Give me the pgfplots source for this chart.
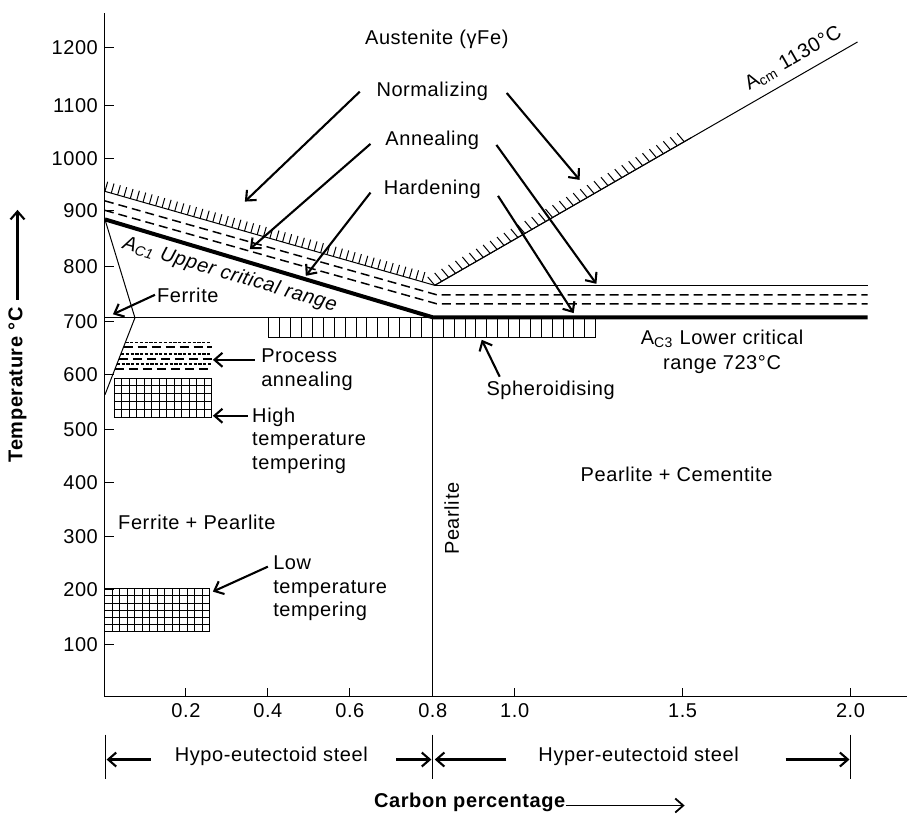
\documentclass[border=0pt]{standalone}
\usepackage{fontspec}
\setmainfont{Liberation Sans}[LetterSpace=3]
\usepackage{pgfplots}
\pgfplotsset{compat=1.18}
\usetikzlibrary{arrows.meta,decorations.pathreplacing}
\begin{document}
\begin{tikzpicture}[
  ann/.style={-{Straight Barb[length=4pt,width=7pt]}, line width=1.05pt},
  lbl/.style={font=\fontsize{10}{12}\selectfont, inner sep=0pt},
]
\begin{axis}[
  scale only axis, width=401pt, height=342pt,
  xmin=0, xmax=1.9561, ymin=0, ymax=1270.7,
  axis lines=left, axis line style={-, line width=0.5pt},
  clip=false,
  xtick={0.1976,0.3976,0.5976,0.8,1.0,1.4098,1.8195},
  xticklabels={0.2,0.4,0.6,0.8,1.0,1.5,2.0},
  ytick={96.6,198.8,296.7,397.5,496,598.2,696.6,798.8,902.8,999.4,1098.8,1206.6},
  yticklabels={100,200,300,400,500,600,700,800,900,1000,1100,1200},
  tick align=inside, major tick length=4.5pt,
  tick style={black,line width=0.5pt},
  ticklabel style={font=\fontsize{10}{12}\selectfont},
  /pgf/number format/assume math mode=true,
]
% page extent
\path (axis cs:-0.2561,-221.1) rectangle (axis cs:1.9561,1294.8);

% Normalizing line (hatched) and its horizontal continuation
\addplot[black, line width=0.5pt, postaction={decorate},
  decoration={border, segment length=3.3pt, amplitude=5pt, angle=90}]
  coordinates {(0,939.1) (0.8049,764.4)};
\addplot[black, line width=0.5pt] coordinates {(0.8049,764.4) (1.861,764.4)};
% Acm line
\addplot[black, line width=0.5pt] coordinates {(0.8049,764.4) (1.8366,1216.8)};
\addplot[black, line width=0.5pt, postaction={decorate},
  decoration={border, segment length=4pt, amplitude=5.5pt, angle=100}]
  coordinates {(0.8049,764.4) (1.4317,1039.3)};

% Annealing (dashed) lines
\addplot[black, line width=0.75pt, dash pattern=on 4.5pt off 2.5pt]
  coordinates {(0,921.4) (0.8098,746.8) (1.861,746.8)};
\addplot[black, line width=0.75pt, dash pattern=on 4.5pt off 2.5pt]
  coordinates {(0,903.8) (0.8098,730.1) (1.861,730.1)};

% Hardening / upper critical (thick)
\addplot[black, line width=2pt] coordinates {(0,887.0) (0.8,705.0) (1.861,705.0)};

% eutectoid thin line
\addplot[black, line width=0.5pt] coordinates {(0,704.1) (0.8,704.1)};
% ferrite boundary
\addplot[black, line width=0.5pt] coordinates {(0,887.0) (0.0732,704.1) (0,561.0)};
% pearlite vertical
\addplot[black, line width=0.5pt] coordinates {(0.8,704.1) (0.8,0)};

% Process annealing lines
\addplot[black, line width=0.8pt, dash pattern=on 1.6pt off 0.8pt] coordinates {(0.0498,658.2) (0.2602,658.2)};
\addplot[black, line width=0.8pt, dash pattern=on 4.5pt off 2.5pt] coordinates {(0.0454,649.7) (0.2602,649.7)};
\addplot[black, line width=0.8pt, dash pattern=on 1.6pt off 0.8pt] coordinates {(0.0390,637.2) (0.2602,637.2)};
\addplot[black, line width=0.8pt, dash pattern=on 4.5pt off 2.5pt] coordinates {(0.0341,627.9) (0.2602,627.9)};
\addplot[black, line width=0.8pt, dash pattern=on 1.6pt off 0.8pt] coordinates {(0.0290,618.1) (0.2602,618.1)};
\addplot[black, line width=0.8pt, dash pattern=on 4.5pt off 2.5pt] coordinates {(0.0244,608.8) (0.2602,608.8)};

% High temperature tempering grid
\pgfplotsinvokeforeach{0.022,0.0403,0.0586,0.077,0.0953,0.1136,0.1319,0.1503,0.1686,0.1869,0.2052,0.2236,0.2419,0.2602}{
  \draw[line width=0.45pt] (axis cs:#1,519.6) -- (axis cs:#1,592.0);}
\pgfplotsinvokeforeach{519.6,534.1,548.6,563.0,577.5,592.0}{
  \draw[line width=0.45pt] (axis cs:0.022,#1) -- (axis cs:0.2602,#1);}

% Low temperature tempering grid
\pgfplotsinvokeforeach{0,0.0183,0.0366,0.0549,0.0732,0.0915,0.1098,0.128,0.1463,0.1646,0.1829,0.2012,0.2195,0.2378,0.2561}{
  \draw[line width=0.45pt] (axis cs:#1,120.7) -- (axis cs:#1,200.6);}
\pgfplotsinvokeforeach{120.7,134.0,147.3,160.6,174.0,187.3,200.6}{
  \draw[line width=0.45pt] (axis cs:0,#1) -- (axis cs:0.2561,#1);}

% Spheroidising box
\pgfplotsinvokeforeach{0.4,0.4266,0.4532,0.4798,0.5063,0.5329,0.5595,0.5861,0.6127,0.6393,0.6659,0.6925,0.719,0.7456,0.7722,0.7988,0.8254,0.852,0.8786,0.9051,0.9317,0.9583,0.9849,1.0115,1.0381,1.0647,1.0913,1.1178,1.1444,1.171,1.1976}{
  \draw[line width=0.45pt] (axis cs:#1,666.9) -- (axis cs:#1,704.1);}
\draw[line width=0.45pt] (axis cs:0.4,666.9) -- (axis cs:1.1976,666.9);
\draw[line width=0.45pt] (axis cs:0.8,704.1) -- (axis cs:1.1976,704.1);

% annotation arrows
\draw[ann] (axis cs:0.622,1124.5) -- (axis cs:0.3415,920.1);
\draw[ann] (axis cs:0.9805,1122.0) -- (axis cs:1.1585,960.4);
\draw[ann] (axis cs:0.648,1027.3) -- (axis cs:0.3537,831.7);
\draw[ann] (axis cs:0.9554,1025.4) -- (axis cs:1.1993,767.2);
\draw[ann] (axis cs:0.648,936.8) -- (axis cs:0.4902,782.1);
\draw[ann] (axis cs:0.9593,930.7) -- (axis cs:1.1439,712.8);
\draw[ann] (axis cs:0.122,746.8) -- (axis cs:0.0195,710.6);
\draw[ann] (axis cs:0.3659,626.0) -- (axis cs:0.2634,626.0);
\draw[ann] (axis cs:0.3488,522.0) -- (axis cs:0.2634,522.0);
\draw[ann] (axis cs:0.3976,241.5) -- (axis cs:0.2634,195.1);
\draw[ann] (axis cs:0.9634,594.5) -- (axis cs:0.9195,663.2);

% texts
\node[lbl] at (axis cs:0.8098,1222.4) {Austenite (γFe)};
\node[lbl] at (axis cs:0.7988,1125.8) {Normalizing};
\node[lbl] at (axis cs:0.7988,1034.7) {Annealing};
\node[lbl] at (axis cs:0.7988,943.7) {Hardening};
\node[lbl, rotate=29.9] at (axis cs:1.680,1186.0) {A\textsubscript{cm} 1130°C};
\node[lbl, rotate=-16.6, font=\fontsize{10}{12}\selectfont\itshape] at (axis cs:0.3049,784.0) {A\textsubscript{C1} Upper critical range};
\node[lbl] at (axis cs:0.2024,744.9) {Ferrite};
\node[lbl, anchor=west, align=left] at (axis cs:0.3805,607.5) {Process\\annealing};
\node[lbl, anchor=west, align=left, font=\fontsize{10}{11.75}\selectfont] at (axis cs:0.3585,476.1) {High\\temperature\\tempering};
\node[lbl] at (axis cs:0.2244,323.2) {Ferrite + Pearlite};
\node[lbl, anchor=west, align=left, font=\fontsize{10}{11.75}\selectfont] at (axis cs:0.4098,200.6) {Low\\temperature\\tempering};
\node[lbl] at (axis cs:1.0878,568.5) {Spheroidising};
\node[lbl, align=center, font=\fontsize{10}{12.5}\selectfont] at (axis cs:1.5061,640.0) {A\textsubscript{C3} Lower critical\\range 723°C};
\node[lbl] at (axis cs:1.3951,412.4) {Pearlite + Cementite};
\node[lbl, rotate=90] at (axis cs:0.8463,330.7) {Pearlite};

% y label
\node[lbl, font=\fontsize{10}{12}\selectfont\bfseries, rotate=90] at (axis cs:-0.2134,579.6) {Temperature °C};
\draw[ann] (axis cs:-0.2134,737.5) -- (axis cs:-0.2134,904.7);

% bottom annotations
\node[lbl] at (axis cs:0.406,-111.5) {Hypo-eutectoid steel};
\node[lbl] at (axis cs:1.3024,-111.5) {Hyper-eutectoid steel};
\draw[ann] (axis cs:0.1122,-117) -- (axis cs:0.0041,-117);
\draw[ann] (axis cs:0.7115,-117) -- (axis cs:0.7966,-117);
\draw[ann] (axis cs:0.9798,-117) -- (axis cs:0.8049,-117);
\draw[ann] (axis cs:1.661,-117) -- (axis cs:1.817,-117);
\draw[line width=0.5pt] (axis cs:0.0024,-70.6) -- (axis cs:0.0024,-152.3);
\draw[line width=0.5pt] (axis cs:0.8,-70.6) -- (axis cs:0.8,-152.3);
\draw[line width=0.5pt] (axis cs:1.8195,-70.6) -- (axis cs:1.8195,-152.3);

% x label
\node[lbl, font=\fontsize{10}{12}\selectfont\bfseries] at (axis cs:0.8902,-196.9) {Carbon percentage};
\draw[-{Straight Barb[length=4pt,width=7pt]}, line width=0.9pt] (axis cs:1.1244,-202.5) -- (axis cs:1.4146,-202.5);
\end{axis}
\end{tikzpicture}
\end{document}
